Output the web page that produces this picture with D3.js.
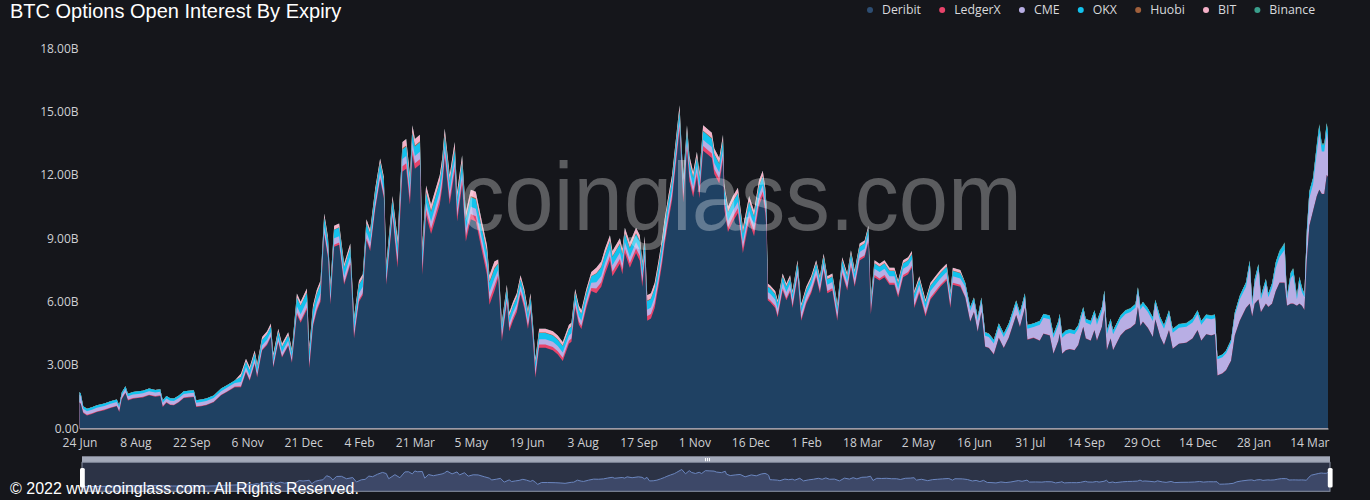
<!DOCTYPE html>
<html><head><meta charset="utf-8">
<script src="https://cdn.jsdelivr.net/npm/d3@7"></script>
<style>html,body{margin:0;padding:0;background:#15161b;overflow:hidden}</style>
</head><body><svg id="c" width="1370" height="500"></svg>
<script>
// category index (days since 24 Jun 2020 on the category axis)
const dayIndex = [
0,1,3,6,10,14,20,25,30,32,34,37,39,43,47,51,56,61,65,67,70,73,76,80,84,88,92,94,98,102,108,114,119,125,
130,134,137,141,143,147,151,154,156,160,163,168,171,
175,178,183,185,188,191,194,197,200,202,205,209,213,218,221,225,228,231,234,238,242,245,247,252,
256,260,263,266,268,270,274,276,279,283,286,290,292,294,298,302,304,308,311,315,319,324,328,330,334,
337,340,344,346,349,352,355,358,361,363,365,367,370,375,381,385,389,394,396,399,402,404,408,412,
416,420,423,427,429,435,437,439,443,448,451,453,455,457,460,463,466,469,471,474,477,479,483,486,489,491,494,497,499,502,505,509,511,515,518,519,522,526,530,534,539,543,547,550,552,553,
554,556,560,562,566,569,572,574,578,581,585,589,593,596,599,602,606,610,614,618,621,624,628,632,635,637,640,644,648,652,656,659,663,667,670,672,676,681,685,689,693,698,701,703,709,
713,717,720,723,726,729,732,736,740,744,748,754,757,761,763,768,
773,776,781,784,788,789,791,794,797,801,804,806,808,810,814,817,819,823,825,827,830,832,838,842,846,850,852,854,856,860,864,866,870,873,877,880,885,891,896,900,903,907,911,914,
916,920,923,927,930,934,939,942,944,946,949,951,955,957,960,963,966,969,970,972,975,977,980,982,984,986,988,990,993,996,998,1000,1002,1004,1005];

const deribit = [
1.22,1.15,0.73,0.61,0.68,0.77,0.86,0.96,1.04,0.77,1.38,1.67,1.32,1.40,1.43,1.46,1.56,1.50,1.53,1.01,1.21,1.10,1.09,1.23,1.43,1.46,1.48,1.01,1.04,1.09,1.23,1.56,1.73,1.95,
1.94,2.65,2.25,3.04,2.41,3.68,3.95,4.31,2.88,4.07,3.35,3.90,3.10,
5.38,5.0,5.62,2.85,4.83,5.55,6.0,9.17,8.07,5.86,8.6,8.7,6.8,7.75,4.27,6.0,6.3,8.9,8.4,10.35,11.78,10.9,6.8,10.0,
7.6,12.16,12.3,10.6,12.95,12.3,12.5,7.27,10.1,9.2,9.8,10.6,11.4,12.8,10.6,12.16,9.8,11.53,8.85,9.9,9.8,8.37,7.27,5.85,6.5,
7.1,4.14,5.9,4.6,5.1,5.5,6.35,5.7,4.7,5.5,4.1,2.4,3.82,3.82,3.7,3.5,3.19,4.0,4.1,5.7,4.9,4.7,5.7,6.5,
6.4,6.7,7.3,7.94,7.2,7.8,7.3,8.3,7.6,8.3,7.94,6.7,7.9,5.1,5.2,5.7,6.7,7.8,8.7,9.8,10.8,11.9,14.1,10.7,13.15,11.7,10.94,11.9,10.9,13.15,13.0,12.8,12.05,11.6,12.7,10.4,9.3,9.8,10.2,8.3,9.8,9.1,10.55,11.0,10.2,9.4,
6.06,5.97,5.7,5.26,6.53,6.06,6.45,5.7,7.16,5.1,5.9,6.4,7.16,6.4,7.47,6.4,6.53,5.1,7.3,6.53,7.63,6.7,7.95,8.1,8.8,5.4,7.16,7.0,7.16,6.8,6.8,6.2,7.16,7.3,7.6,5.7,6.4,5.3,6.1,6.4,6.7,7.0,5.7,6.8,6.7,
6.2,5.05,5.5,4.57,5.5,3.86,3.8,3.5,4.28,3.8,4.28,5.36,4.8,5.7,4.2,4.28,
4.15,4.48,4.4,3.53,4.15,4.48,3.53,3.7,3.75,3.7,3.95,4.4,4.8,4.25,4.15,4.65,4.15,4.8,5.59,3.7,4.25,3.7,4.4,4.65,4.75,4.95,5.74,4.85,5.05,4.75,4.32,5.15,4.32,3.95,4.65,3.77,4.0,4.05,4.25,4.65,4.15,4.45,4.4,4.45,
2.5,2.6,2.75,3.2,4.4,5.1,5.7,5.9,5.3,5.9,6.1,5.5,5.9,5.75,5.9,6.5,6.9,6.9,6.9,5.8,5.9,5.9,5.8,5.9,5.8,5.6,8.0,9.6,10.3,11.0,11.3,11.1,11.1,12.0,11.9];

const ledgerX = [
0.03,0.03,0.03,0.03,0.03,0.03,0.03,0.03,0.03,0.03, 0.03,0.03,0.03,0.03,0.03,0.03,0.03,0.03,0.03,0.03, 0.03,0.03,0.03,0.03,0.03,0.03,0.03,0.03,0.03,0.03, 0.03,0.03,0.03,0.03,
0.05,0.05,0.05,0.05,0.05,0.05,0.05,0.05,0.05,0.05, 0.05,0.05,0.05,
0.1,0.1,0.1,0.1,0.1,0.1,0.1,0.1,0.1,0.1, 0.1,0.1,0.1,0.1,0.1,0.1,0.1,0.1,0.1,0.1, 0.1,0.1,0.1,0.1,
0.25,0.25,0.25,0.25,0.25,0.25,0.25,0.25,0.25,0.25, 0.25,0.25,0.25,0.25,0.25,0.25,0.25,0.25,0.25,0.25, 0.25,0.25,0.25,0.25,0.25,
0.15,0.15,0.15,0.15,0.15,0.15,0.15,0.15,0.15,0.15, 0.15,0.15,0.15,0.15,0.15,0.15,0.15,0.15,0.15,0.15, 0.15,0.15,0.15,0.15,
0.22,0.22,0.22,0.22,0.22,0.22,0.22,0.22,0.22,0.22, 0.22,0.22,0.22,0.22,0.22,0.22,0.22,0.22,0.22,0.22, 0.22,0.22,0.22,0.22,0.22,0.22,0.22,0.22,0.22,0.22, 0.22,0.22,0.22,0.22,0.22,0.22,0.22,0.22,0.22,0.22, 0.22,0.22,0.22,0.22,0.22,0.22,
0.1,0.1,0.1,0.1,0.1,0.1,0.1,0.1,0.1,0.1, 0.1,0.1,0.1,0.1,0.1,0.1,0.1,0.1,0.1,0.1, 0.1,0.1,0.1,0.1,0.1,0.1,0.1,0.1,0.1,0.1, 0.1,0.1,0.1,0.1,0.1,0.1,0.1,0.1,0.1,0.1, 0.1,0.1,0.1,0.1,0.1,
0.02,0.02,0.02,0.02,0.02,0.02,0.02,0.02,0.02,0.02, 0.02,0.02,0.02,0.02,0.02,0.02,
0.01,0.01,0.01,0.01,0.01,0.01,0.01,0.01,0.01,0.01, 0.01,0.01,0.01,0.01,0.01,0.01,0.01,0.01,0.01,0.01, 0.01,0.01,0.01,0.01,0.01,0.01,0.01,0.01,0.01,0.01, 0.01,0.01,0.01,0.01,0.01,0.01,0.01,0.01,0.01,0.01, 0.01,0.01,0.01,0.01,
0.01,0.01,0.01,0.01,0.01,0.01,0.01,0.01,0.01,0.01, 0.01,0.01,0.01,0.01,0.01,0.01,0.01,0.01,0.01,0.01, 0.01,0.01,0.01,0.01,0.01,0.01,0.01,0.01,0.01,0.01, 0.01,0.01,0.01,0.01,0.01];

const cme = [
0.35,0.35,0.17,0.17,0.17,0.17,0.17,0.17,0.17,0.17, 0.17,0.17,0.17,0.17,0.17,0.17,0.17,0.17,0.17,0.17, 0.17,0.17,0.17,0.17,0.17,0.17,0.17,0.17,0.17,0.17, 0.17,0.17,0.17,0.17,
0.2,0.2,0.2,0.2,0.2,0.2,0.2,0.2,0.2,0.2, 0.2,0.2,0.2,
0.3,0.3,0.3,0.3,0.3,0.3,0.3,0.3,0.3,0.3, 0.3,0.3,0.3,0.3,0.3,0.3,0.3,0.3,0.3,0.3, 0.3,0.3,0.3,0.3,
0.35,0.35,0.35,0.35,0.35,0.35,0.35,0.35,0.35,0.35, 0.35,0.35,0.35,0.35,0.35,0.35,0.35,0.35,0.35,0.35, 0.35,0.35,0.35,0.35,0.35,
0.25,0.25,0.25,0.25,0.25,0.25,0.25,0.25,0.25,0.25, 0.25,0.25,0.25,0.25,0.25,0.25,0.25,0.25,0.25,0.25, 0.25,0.25,0.25,0.25,
0.3,0.3,0.3,0.3,0.3,0.3,0.3,0.3,0.3,0.3, 0.3,0.3,0.3,0.3,0.3,0.3,0.3,0.3,0.3,0.3, 0.3,0.3,0.3,0.3,0.3,0.3,0.3,0.3,0.3,0.3, 0.3,0.3,0.3,0.3,0.3,0.3,0.3,0.3,0.3,0.3, 0.3,0.3,0.3,0.3,0.3,0.3,
0.3,0.3,0.3,0.3,0.3,0.3,0.3,0.3,0.3,0.3, 0.3,0.3,0.3,0.3,0.3,0.3,0.3,0.3,0.3,0.3, 0.3,0.3,0.3,0.3,0.3,0.3,0.3,0.3,0.3,0.3, 0.3,0.3,0.3,0.3,0.3,0.3,0.3,0.3,0.3,0.3, 0.3,0.3,0.3,0.3,0.3,
0.5,0.5,0.5,0.5,0.5,0.5,0.5,0.5,0.5,0.5, 0.5,0.5,0.5,0.5,0.5,0.5,
0.75,0.75,0.75,0.75,0.75,0.75,0.75,0.75,0.75,0.75, 0.75,0.75,0.75,0.75,0.75,0.75,0.75,0.75,0.75,0.75, 0.75,0.75,0.75,0.75,0.75,0.75,0.75,0.75,0.75,0.75, 0.75,0.75,0.75,0.75,0.75,0.75,0.75,0.75,0.75,0.75, 0.75,0.75,0.75,0.75,
0.76,0.76,0.8,0.85,0.93,1.0,1.0,1.8,0.5,0.95,1.45,0.6,0.95,0.45,0.75,1.1,1.2,1.45,1.55,0.3,1.2,1.35,0.3,1.0,0.65,0.6,1.1,1.3,1.25,2.05,2.7,2.0,2.0,2.05,1.7];

const okx = [
0.12,0.12,0.12,0.12,0.12,0.12,0.12,0.12,0.12,0.12, 0.12,0.12,0.12,0.12,0.12,0.12,0.12,0.12,0.12,0.12, 0.12,0.12,0.12,0.12,0.12,0.12,0.12,0.12,0.12,0.12, 0.12,0.12,0.12,0.12,
0.25,0.25,0.25,0.25,0.25,0.25,0.25,0.25,0.25,0.25, 0.25,0.25,0.25,
0.4,0.4,0.4,0.4,0.4,0.4,0.4,0.4,0.4,0.4, 0.4,0.4,0.4,0.4,0.4,0.4,0.4,0.4,0.4,0.4, 0.4,0.4,0.4,0.4,
0.45,0.45,0.45,0.45,0.45,0.45,0.45,0.45,0.45,0.45, 0.45,0.45,0.45,0.45,0.45,0.45,0.45,0.45,0.45,0.45, 0.45,0.45,0.45,0.45,0.45,
0.3,0.3,0.3,0.3,0.3,0.3,0.3,0.3,0.3,0.3, 0.3,0.3,0.3,0.3,0.3,0.3,0.3,0.3,0.3,0.3, 0.3,0.3,0.3,0.3,
0.4,0.4,0.4,0.4,0.4,0.4,0.4,0.4,0.4,0.4, 0.4,0.4,0.4,0.4,0.4,0.4,0.4,0.4,0.4,0.4, 0.4,0.4,0.4,0.4,0.4,0.4,0.4,0.4,0.4,0.4, 0.4,0.4,0.4,0.4,0.4,0.4,0.4,0.4,0.4,0.4, 0.4,0.4,0.4,0.4,0.4,0.4,
0.25,0.25,0.25,0.25,0.25,0.25,0.25,0.25,0.25,0.25, 0.25,0.25,0.25,0.25,0.25,0.25,0.25,0.25,0.25,0.25, 0.25,0.25,0.25,0.25,0.25,0.25,0.25,0.25,0.25,0.25, 0.25,0.25,0.25,0.25,0.25,0.25,0.25,0.25,0.25,0.25, 0.25,0.25,0.25,0.25,0.25,
0.16,0.16,0.16,0.16,0.16,0.16,0.16,0.16,0.16,0.16, 0.16,0.16,0.16,0.16,0.16,0.16,
0.17,0.17,0.17,0.17,0.17,0.17,0.17,0.17,0.17,0.17, 0.17,0.17,0.17,0.17,0.17,0.17,0.17,0.17,0.17,0.17, 0.17,0.17,0.17,0.17,0.17,0.17,0.17,0.17,0.17,0.17, 0.17,0.17,0.17,0.17,0.17,0.17,0.17,0.17,0.17,0.17, 0.17,0.17,0.17,0.17,
0.12,0.12,0.12,0.13,0.15,0.17,0.2,0.22,0.17,0.2,0.2,0.16,0.2,0.16,0.2,0.25,0.27,0.29,0.32,0.15,0.25,0.29,0.15,0.25,0.2,0.15,0.3,0.3,0.28,0.35,0.35,0.32,0.32,0.38,0.33];

const huobi = [
0,0,0,0,0,0,0,0,0,0, 0,0,0,0,0,0,0,0,0,0, 0,0,0,0,0,0,0,0,0,0, 0,0,0,0,
0,0,0,0,0,0,0,0,0,0, 0,0,0,
0.02,0.02,0.02,0.02,0.02,0.02,0.02,0.02,0.02,0.02, 0.02,0.02,0.02,0.02,0.02,0.02,0.02,0.02,0.02,0.02, 0.02,0.02,0.02,0.02,
0.05,0.05,0.05,0.05,0.05,0.05,0.05,0.05,0.05,0.05, 0.05,0.05,0.05,0.05,0.05,0.05,0.05,0.05,0.05,0.05, 0.05,0.05,0.05,0.05,0.05,
0.02,0.02,0.02,0.02,0.02,0.02,0.02,0.02,0.02,0.02, 0.02,0.02,0.02,0.02,0.02,0.02,0.02,0.02,0.02,0.02, 0.02,0.02,0.02,0.02,
0.03,0.03,0.03,0.03,0.03,0.03,0.03,0.03,0.03,0.03, 0.03,0.03,0.03,0.03,0.03,0.03,0.03,0.03,0.03,0.03, 0.03,0.03,0.03,0.03,0.03,0.03,0.03,0.03,0.03,0.03, 0.03,0.03,0.03,0.03,0.03,0.03,0.03,0.03,0.03,0.03, 0.03,0.03,0.03,0.03,0.03,0.03,
0.02,0.02,0.02,0.02,0.02,0.02,0.02,0.02,0.02,0.02, 0.02,0.02,0.02,0.02,0.02,0.02,0.02,0.02,0.02,0.02, 0.02,0.02,0.02,0.02,0.02,0.02,0.02,0.02,0.02,0.02, 0.02,0.02,0.02,0.02,0.02,0.02,0.02,0.02,0.02,0.02, 0.02,0.02,0.02,0.02,0.02,
0.01,0.01,0.01,0.01,0.01,0.01,0.01,0.01,0.01,0.01, 0.01,0.01,0.01,0.01,0.01,0.01,
0,0,0,0,0,0,0,0,0,0, 0,0,0,0,0,0,0,0,0,0, 0,0,0,0,0,0,0,0,0,0, 0,0,0,0,0,0,0,0,0,0, 0,0,0,0,
0,0,0,0,0,0,0,0,0,0, 0,0,0,0,0,0,0,0,0,0, 0,0,0,0,0,0,0,0,0,0, 0,0,0,0,0];

const bit = [
0,0,0,0,0,0,0,0,0,0, 0,0,0,0,0,0,0,0,0,0, 0,0,0,0,0,0,0,0,0,0, 0,0,0,0,
0.15,0.15,0.15,0.15,0.15,0.15,0.15,0.15,0.15,0.15, 0.15,0.15,0.15,
0.18,0.18,0.18,0.18,0.18,0.18,0.18,0.18,0.18,0.18, 0.18,0.18,0.18,0.18,0.18,0.18,0.18,0.18,0.18,0.18, 0.18,0.18,0.18,0.18,
0.3,0.3,0.3,0.3,0.3,0.3,0.3,0.3,0.3,0.3, 0.3,0.3,0.3,0.3,0.3,0.3,0.3,0.3,0.3,0.3, 0.3,0.3,0.3,0.3,0.3,
0.18,0.18,0.18,0.18,0.18,0.18,0.18,0.18,0.18,0.18, 0.18,0.18,0.18,0.18,0.18,0.18,0.18,0.18,0.18,0.18, 0.18,0.18,0.18,0.18,
0.25,0.25,0.25,0.25,0.25,0.25,0.25,0.25,0.25,0.25, 0.25,0.25,0.25,0.25,0.25,0.25,0.25,0.25,0.25,0.25, 0.25,0.25,0.25,0.25,0.25,0.25,0.25,0.25,0.25,0.25, 0.25,0.25,0.25,0.25,0.25,0.25,0.25,0.25,0.25,0.25, 0.25,0.25,0.25,0.25,0.25,0.25,
0.13,0.13,0.13,0.13,0.13,0.13,0.13,0.13,0.13,0.13, 0.13,0.13,0.13,0.13,0.13,0.13,0.13,0.13,0.13,0.13, 0.13,0.13,0.13,0.13,0.13,0.13,0.13,0.13,0.13,0.13, 0.13,0.13,0.13,0.13,0.13,0.13,0.13,0.13,0.13,0.13, 0.13,0.13,0.13,0.13,0.13,
0,0,0,0,0,0,0,0,0,0, 0,0,0,0,0,0,
0,0,0,0,0,0,0,0,0,0, 0,0,0,0,0,0,0,0,0,0, 0,0,0,0,0,0,0,0,0,0, 0,0,0,0,0,0,0,0,0,0, 0,0,0,0,
0,0,0,0,0,0,0,0,0,0, 0,0,0,0,0,0,0,0,0,0, 0,0,0,0,0,0,0,0,0,0, 0,0,0,0,0];

const binance = [
0,0,0,0,0,0,0,0,0,0, 0,0,0,0,0,0,0,0,0,0, 0,0,0,0,0,0,0,0,0,0, 0,0,0,0,
0,0,0,0,0,0,0,0,0,0, 0,0,0,
0,0,0,0,0,0,0,0,0,0, 0,0,0,0,0,0,0,0,0,0, 0,0,0,0,
0,0,0,0,0,0,0,0,0,0, 0,0,0,0,0,0,0,0,0,0, 0,0,0,0,0,
0,0,0,0,0,0,0,0,0,0, 0,0,0,0,0,0,0,0,0,0, 0,0,0,0,
0,0,0,0,0,0,0,0,0,0, 0,0,0,0,0,0,0,0,0,0, 0,0,0,0,0,0,0,0,0,0, 0,0,0,0,0,0,0,0,0,0, 0,0,0,0,0,0,
0,0,0,0,0,0,0,0,0,0, 0,0,0,0,0,0,0,0,0,0, 0,0,0,0,0,0,0,0,0,0, 0,0,0,0,0,0,0,0,0,0, 0,0,0,0,0,
0.01,0.01,0.01,0.01,0.01,0.01,0.01,0.01,0.01,0.01, 0.01,0.01,0.01,0.01,0.01,0.01,
0.02,0.02,0.02,0.02,0.02,0.02,0.02,0.02,0.02,0.02, 0.02,0.02,0.02,0.02,0.02,0.02,0.02,0.02,0.02,0.02, 0.02,0.02,0.02,0.02,0.02,0.02,0.02,0.02,0.02,0.02, 0.02,0.02,0.02,0.02,0.02,0.02,0.02,0.02,0.02,0.02, 0.02,0.02,0.02,0.02,
0.01,0.01,0.01,0.01,0.01,0.02,0.02,0.03,0.02,0.04,0.04,0.03,0.04,0.03,0.04,0.04,0.05,0.05,0.05,0.04,0.04,0.05,0.04,0.04,0.04,0.04,0.09,0.06,0.06,0.09,0.07,0.07,0.07,0.06,0.06];

const seriesNames = ["Deribit","LedgerX","CME","OKX","Huobi","BIT","Binance"];
const seriesColors = ["#1f4163","#e8436a","#b8aee4","#12c2ee","#a0603c","#f5b0c8","#3a9f8c"];
const legendColors = ["#2d4d72","#e8436a","#b8aee4","#12c2ee","#a0603c","#f5b0c8","#3a9f8c"];
const xTickLabels = ["24 Jun","8 Aug","22 Sep","6 Nov","21 Dec","4 Feb","21 Mar","5 May","19 Jun","3 Aug","17 Sep","1 Nov","16 Dec","1 Feb","18 Mar","2 May","16 Jun","31 Jul","14 Sep","29 Oct","14 Dec","28 Jan","14 Mar"];
const xTickStep = 45;
const lastIndex = 1005;
const yTickValues = [0,3,6,9,12,15,18];

const seriesData = [deribit, ledgerX, cme, okx, huobi, bit, binance];
seriesData.forEach((s,i)=>{ if (s.length !== dayIndex.length) console.error(seriesNames[i]+" length "+s.length+" vs "+dayIndex.length); });

const FONT = "'Open Sans', 'Noto Sans', sans-serif";
const svg = d3.select("#c");
svg.append("rect").attr("width",1370).attr("height",500).attr("fill","#15161b");

const x = d3.scaleLinear().domain([0,lastIndex]).range([79.5,1328]);
const y = d3.scaleLinear().domain([0,18]).range([428.3,48.3]);

const rows = dayIndex.map((d,i)=>{
  const r = {idx:d};
  seriesNames.forEach((n,k)=>{ r[n] = seriesData[k][i]; });
  return r;
});
const stacked = d3.stack().keys(seriesNames)(rows);

// draw cumulative areas from the top layer down so there are no seams
const gArea = svg.append("g");
for (let k = stacked.length-1; k >= 0; k--) {
  const area = d3.area().x(d=>x(d.data.idx)).y0(y(0)).y1(d=>y(d[1]));
  gArea.append("path").datum(stacked[k]).attr("d",area).attr("fill",seriesColors[k]);
}

// x axis
const xAxis = d3.axisBottom(x)
  .tickValues(xTickLabels.map((_,i)=>i*xTickStep))
  .tickFormat((d,i)=>xTickLabels[i])
  .tickSize(0).tickSizeOuter(0).tickPadding(10);
const gx = svg.append("g").attr("transform","translate(0,428.5)").call(xAxis);
gx.select(".domain").attr("stroke","#d0d0d0").attr("stroke-width",1);
gx.selectAll("text").attr("fill","#cfd0d4").style("font-family",FONT).style("font-size","12px");

// y axis
const yAxis = d3.axisLeft(y).tickValues(yTickValues)
  .tickFormat(v=> v===0 ? "0.00" : v.toFixed(2)+"B")
  .tickSize(0).tickPadding(1);
const gy = svg.append("g").attr("transform","translate(79.5,0)").call(yAxis);
gy.select(".domain").remove();
gy.selectAll("text").attr("fill","#cfd0d4").style("font-family",FONT).style("font-size","12px");

// watermark
svg.append("text").attr("x",460).attr("y",230).text("coinglass.com")
  .attr("font-family","'Liberation Sans', Arial, sans-serif").attr("font-size",96)
  .attr("textLength",562).attr("lengthAdjust","spacingAndGlyphs")
  .attr("fill","#ffffff").attr("fill-opacity",0.3);

// title
svg.append("text").attr("x",10).attr("y",18).text("BTC Options Open Interest By Expiry")
  .attr("font-family","'Liberation Sans', Arial, sans-serif").attr("font-size",20).attr("fill","#ffffff");

// legend
const gLeg = svg.append("g");
let lx = 870;
seriesNames.forEach((n,i)=>{
  gLeg.append("circle").attr("cx",lx).attr("cy",10).attr("r",3).attr("fill",legendColors[i]);
  const t = gLeg.append("text").attr("x",lx+12).attr("y",10).attr("dy","0.35em").text(n)
    .attr("font-family",FONT).attr("font-size",12.3).attr("fill","#d8d9dc");
  lx = lx + 12 + t.node().getComputedTextLength() + 21.2;
});

// data zoom slider
const sx = d3.scaleLinear().domain([0,lastIndex]).range([82,1330]);
const sy = d3.scaleLinear().domain([0,18]).range([487.4,464.5]);
svg.append("rect").attr("x",82).attr("y",456.3).attr("width",1248).attr("height",6).attr("fill","#a3a9b9");
svg.append("rect").attr("x",82).attr("y",462.3).attr("width",1248).attr("height",29).attr("fill","#2c3346");
const mini = d3.area().x((d,i)=>sx(dayIndex[i])).y0(491.3).y1(d=>sy(d));
svg.append("path").datum(deribit).attr("d",mini).attr("fill","#3d4868");
const miniLine = d3.line().x((d,i)=>sx(dayIndex[i])).y(d=>sy(d));
svg.append("path").datum(deribit).attr("d",miniLine).attr("fill","none").attr("stroke","#6b86bf").attr("stroke-width",1);
svg.append("rect").attr("x",82).attr("y",462.3).attr("width",1248).attr("height",29).attr("fill","none").attr("stroke","#8a91a3").attr("stroke-width",1);
[705,707,709].forEach(gxp=>svg.append("rect").attr("x",gxp).attr("y",458).attr("width",1).attr("height",3.2).attr("fill","#ffffff"));
svg.append("rect").attr("x",80).attr("y",468).attr("width",4.8).attr("height",19.5).attr("rx",1.5).attr("fill","#ffffff");
svg.append("rect").attr("x",1327.8).attr("y",468).attr("width",4.8).attr("height",19.5).attr("rx",1.5).attr("fill","#ffffff");

// copyright
svg.append("text").attr("x",10).attr("y",494).text("© 2022 www.coinglass.com. All Rights Reserved.")
  .attr("font-family","'Liberation Sans', Arial, sans-serif").attr("font-size",16).attr("fill","#ffffff");
</script></body></html>
